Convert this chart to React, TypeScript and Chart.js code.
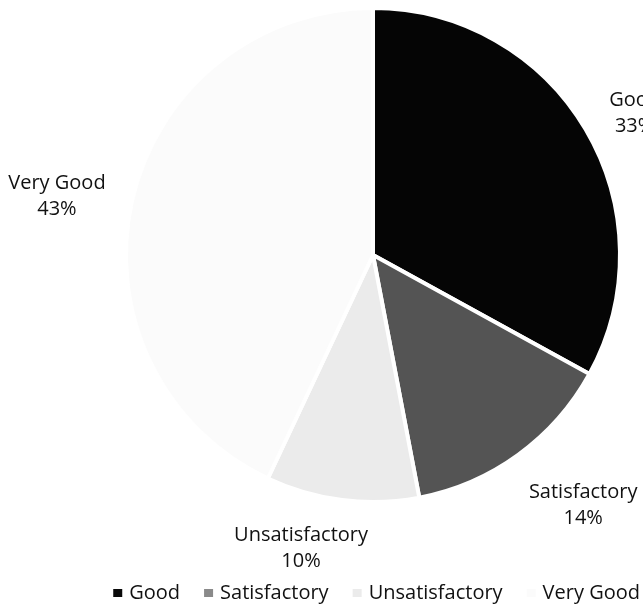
import React, { useEffect, useRef } from "react";
import { Chart, registerables } from "chart.js";

Chart.register(...registerables);

const categories = ["Good", "Satisfactory", "Unsatisfactory", "Very Good"];
const percentages = [33, 14, 10, 43];
const sliceColors = ["#050505", "#545454", "#ebebeb", "#fbfbfb"];
const legendMarkerColors = ["#0a0a0a", "#8a8a8a", "#ebebeb", "#fbfbfb"];
// label nudges from the outer point of each slice's mid-angle (px)
const labelNudges: [number, number][] = [
  [49, -16],
  [65, 50],
  [-41, 48],
  [-75, -5],
];

const FONT = "'Open Sans', 'Noto Sans', sans-serif";

const dataLabelPlugin = {
  id: "outsideLabels",
  afterDatasetsDraw(chart: any) {
    const ctx = chart.ctx;
    const meta = chart.getDatasetMeta(0);
    const values: number[] = chart.data.datasets[0].data;
    const total = values.reduce((a, b) => a + b, 0);
    ctx.save();
    ctx.font = `20px ${FONT}`;
    ctx.fillStyle = "#111";
    ctx.textAlign = "center";
    ctx.textBaseline = "middle";
    meta.data.forEach((arc: any, i: number) => {
      const { x, y, startAngle, endAngle, outerRadius } = arc.getProps(
        ["x", "y", "startAngle", "endAngle", "outerRadius"],
        true
      );
      const mid = (startAngle + endAngle) / 2;
      const ox = x + Math.cos(mid) * outerRadius;
      const oy = y + Math.sin(mid) * outerRadius;
      const [dx, dy] = labelNudges[i];
      const cx = ox + dx;
      const cy = oy + dy;
      const pct = Math.round((values[i] / total) * 100) + "%";
      ctx.fillText(chart.data.labels[i], cx, cy - 13);
      ctx.fillText(pct, cx, cy + 13);
    });
    ctx.restore();
  },
};

// bottom legend drawn below the pie
const bottomLegendPlugin = {
  id: "bottomLegend",
  afterDraw(chart: any) {
    const ctx = chart.ctx;
    const labels: string[] = chart.data.labels;
    const boxW = 9;
    const boxH = 8;
    const boxGap = 7;
    const itemGap = 24;
    const legendY = 593;
    const centerX = 377;
    ctx.save();
    ctx.font = `20px ${FONT}`;
    ctx.textBaseline = "middle";
    ctx.textAlign = "left";
    const widths = labels.map((t) => boxW + boxGap + ctx.measureText(t).width);
    const total = widths.reduce((a, b) => a + b, 0) + itemGap * (labels.length - 1);
    let x = Math.min(centerX - total / 2, 640 - total);
    labels.forEach((t, i) => {
      ctx.fillStyle = legendMarkerColors[i];
      ctx.fillRect(x, legendY - boxH / 2, boxW, boxH);
      ctx.fillStyle = "#111";
      ctx.fillText(t, x + boxW + boxGap, legendY);
      x += widths[i] + itemGap;
    });
    ctx.restore();
  },
};

export default function App() {
  const canvasRef = useRef<HTMLCanvasElement | null>(null);

  useEffect(() => {
    const canvas = canvasRef.current;
    if (!canvas) return;
    const chart = new Chart(canvas, {
      type: "pie",
      data: {
        labels: categories,
        datasets: [
          {
            data: percentages,
            backgroundColor: sliceColors,
            borderWidth: 4,
            borderColor: "#ffffff",
            borderAlign: "center",
            radius: 247,
          } as any,
        ],
      },
      options: {
        responsive: false,
        animation: false,
        devicePixelRatio: 1,
        layout: {
          padding: { top: 0, left: 103, right: 0, bottom: 96 },
        },
        plugins: {
          legend: { display: false },
          tooltip: { enabled: false },
        },
      } as any,
      plugins: [dataLabelPlugin, bottomLegendPlugin],
    });
    return () => chart.destroy();
  }, []);

  return (
    <div
      style={{
        position: "absolute",
        left: 0,
        top: 0,
        width: 643,
        height: 606,
        overflow: "hidden",
        background: "#fff",
      }}
    >
      <canvas ref={canvasRef} width={643} height={606} style={{ display: "block" }} />
    </div>
  );
}
